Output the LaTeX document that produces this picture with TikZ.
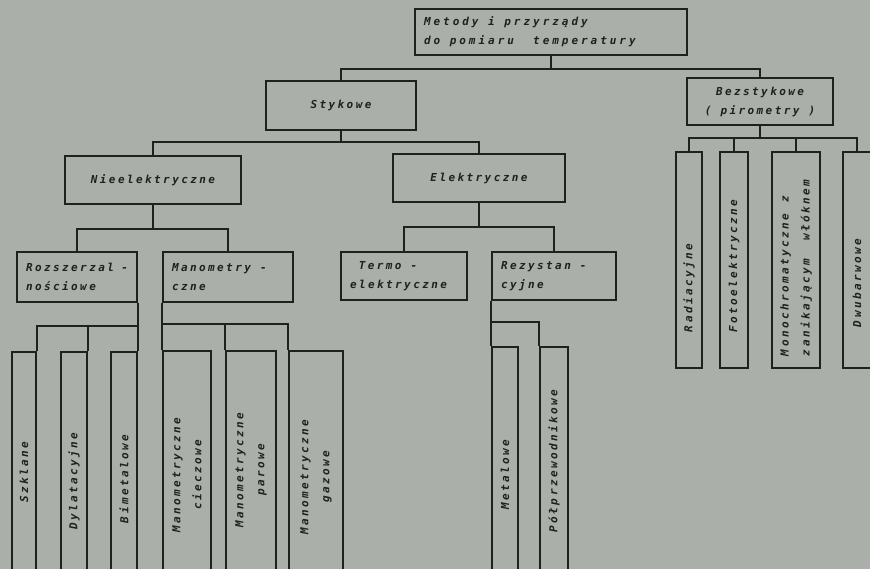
\documentclass[tikz,border=0pt]{standalone}
\usepackage{fontspec}
\newfontfamily\techfont[LetterSpace=22]{DejaVu Sans Mono}
\usetikzlibrary{positioning}
\definecolor{paper}{RGB}{170,175,169}
\definecolor{ink}{RGB}{30,33,30}

\begin{document}
\begin{tikzpicture}[
  x=1pt,y=-1pt,
  box/.style={draw=ink,line width=1.8pt,inner sep=0pt,align=center,text=ink,
    font=\techfont\bfseries\itshape\fontsize{11}{19}\selectfont},
  lbox/.style={box,align=left,inner xsep=9pt,execute at begin node={\spaceskip=0pt\xspaceskip=0pt}},
  vbox/.style={draw=ink,line width=1.8pt,inner sep=0pt},
  vlab/.style={rotate=90,align=center,text=ink,inner sep=0pt,
    font=\techfont\bfseries\itshape\fontsize{11}{21}\selectfont},
  conn/.style={draw=ink,line width=1.8pt}
]
\useasboundingbox (0,0) rectangle (870,569);
\clip (0,0) rectangle (870,569);
\fill[paper] (0,0) rectangle (870,569);

% upper levels
\node[lbox,minimum width=272pt,minimum height=46pt,text width=254pt,
  execute at begin node={\spaceskip=0pt\xspaceskip=0pt\addfontfeature{LetterSpace=27}}] (metody) at (551,32) {Metody i przyrządy\\do pomiaru\ \ temperatury};
\node[box,minimum width=150pt,minimum height=49pt] (stykowe) at (341,105.5) {Stykowe};
\node[box,minimum width=146pt,minimum height=47pt] (bezstyk) at (760,101.5) {Bezstykowe\\( pirometry )};
\node[box,minimum width=176pt,minimum height=48pt] (nieel) at (153,180) {Nieelektryczne};
\node[box,minimum width=172pt,minimum height=48pt] (elektr) at (479,178) {Elektryczne};
\node[lbox,minimum width=120pt,minimum height=50pt,text width=102pt] (rozsz) at (77,277) {Rozszerzal -\\nościowe};
\node[lbox,minimum width=130pt,minimum height=50pt,text width=112pt] (manom) at (228,277) {Manometry -\\czne};
\node[lbox,minimum width=126pt,minimum height=48pt,text width=108pt] (termo) at (404,276) {\hspace{0.8em}Termo -\\elektryczne};
\node[lbox,minimum width=124pt,minimum height=48pt,text width=106pt] (rezyst) at (554,276) {Rezystan -\\cyjne};

% tall boxes
\node[vbox,minimum width=24pt,minimum height=253pt] (szkl) at (24,478.5) {};
\node[vbox,minimum width=26pt,minimum height=253pt] (dylat) at (74,478.5) {};
\node[vbox,minimum width=26pt,minimum height=253pt] (bimet) at (124,478.5) {};
\node[vbox,minimum width=48pt,minimum height=254pt] (mcie) at (187,478) {};
\node[vbox,minimum width=50pt,minimum height=254pt] (mpar) at (251,478) {};
\node[vbox,minimum width=54pt,minimum height=254pt] (mgaz) at (316,478) {};
\node[vbox,minimum width=26pt,minimum height=258pt] (metal) at (505,476) {};
\node[vbox,minimum width=28pt,minimum height=258pt] (polprz) at (554,476) {};
\node[vbox,minimum width=26pt,minimum height=216pt] (radiac) at (689,260) {};
\node[vbox,minimum width=28pt,minimum height=216pt] (fotoel) at (734,260) {};
\node[vbox,minimum width=48pt,minimum height=216pt] (monoch) at (796,260) {};
\node[vbox,minimum width=28pt,minimum height=216pt] (dwub) at (857,260) {};

\node[vlab] (szkllab) at (szkl.center |- 0,472) {Szklane};
\node[vlab] (dylatlab) at (dylat.center |- 0,481) {Dylatacyjne};
\node[vlab] (bimetlab) at (bimet.center |- 0,479) {Bimetalowe};
\node[vlab] (mcielab) at (mcie.center |- 0,475) {Manometryczne\\cieczowe};
\node[vlab] (mparlab) at (mpar.center |- 0,470) {Manometryczne\\parowe};
\node[vlab] (mgazlab) at (mgaz.center |- 0,477) {Manometryczne\\gazowe};
\node[vlab] (metallab) at (metal.center |- 0,475) {Metalowe};
\node[vlab] (polprzlab) at (polprz.center |- 0,461) {Półprzewodnikowe};
\node[vlab] (radiaclab) at (radiac.center |- 0,288) {Radiacyjne};
\node[vlab] (fotoellab) at (fotoel.center |- 0,266) {Fotoelektryczne};
\node[vlab,align=left] (monochlab) at (monoch.center |- 0,268) {Monochromatyczne\quad z\\zanikającym\ \ włóknem};
\node[vlab] (dwublab) at (dwub.center |- 0,283) {Dwubarwowe};

% connectors
\draw[conn] (metody.south) -- ++(0,13) coordinate (b1);
\draw[conn] (stykowe.north) |- (b1) -| (bezstyk.north);
\draw[conn] (stykowe.south) -- ++(0,11) coordinate (b2);
\draw[conn] (nieel.north) |- (b2) -| (elektr.north);
\draw[conn] (nieel.south) -- ++(0,24) coordinate (b3);
\draw[conn] (rozsz.north) |- (b3) -| (manom.north);
\draw[conn] (elektr.south) -- ++(0,24) coordinate (b4);
\draw[conn] (termo.north) |- (b4) -| (rezyst.north);
\draw[conn] (bezstyk.south) -- ++(0,12) coordinate (b6);
\draw[conn] (radiac.north) |- (b6) -| (dwub.north);
\draw[conn] (fotoel.north) -- (fotoel.north |- b6);
\draw[conn] (monoch.north) -- (monoch.north |- b6);

\draw[conn] (rozsz.south east) -- (bimet.north east);
\draw[conn] (szkl.north east) -- ++(0,-25) -| (bimet.north east);
\draw[conn] (dylat.north east) -- ++(0,-25);
\draw[conn] (manom.south west) -- (mcie.north west);
\draw[conn] (mcie.north west) -- ++(0,-26) -| (mgaz.north west);
\draw[conn] (mpar.north west) -- ++(0,-26);
\draw[conn] (rezyst.south west) -- (metal.north west);
\draw[conn] (metal.north west) -- ++(0,-24) -| (polprz.north west);
\end{tikzpicture}
\end{document}
